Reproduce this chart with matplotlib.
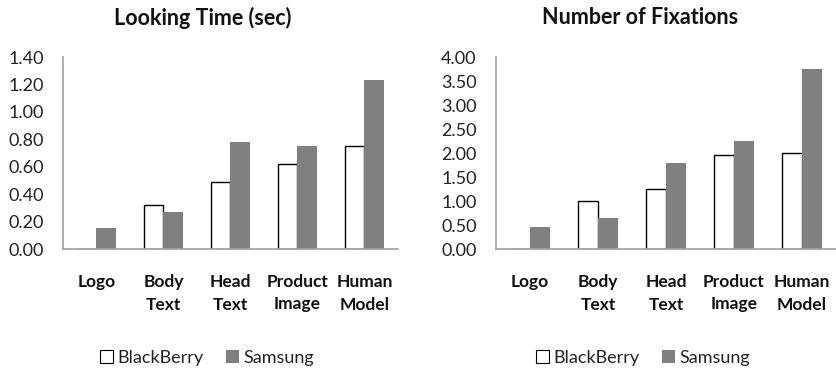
import matplotlib.pyplot as plt
from matplotlib.patches import Patch
import numpy as np

plt.rcParams['font.family'] = ['Lato', 'DejaVu Sans']

categories = ['Logo', 'Body\nText', 'Head\nText', 'Product\nImage', 'Human\nModel']
series = ['BlackBerry', 'Samsung']

looking_bb = [0.0, 0.32, 0.49, 0.62, 0.75]
looking_sam = [0.15, 0.27, 0.78, 0.75, 1.23]
fix_bb = [0.0, 1.00, 1.25, 1.95, 2.01]
fix_sam = [0.46, 0.64, 1.80, 2.26, 3.75]

W, H = 837, 368
fig = plt.figure(figsize=(W / 100, H / 100), dpi=100)

# title, BlackBerry, Samsung, ymax, step, axes left px, axes width px, title x, legend x
panels = [
    ("Looking Time (sec)", looking_bb, looking_sam, 1.40, 0.20, 63, 335, 203, 207),
    ("Number of Fixations", fix_bb, fix_sam, 4.00, 0.50, 496, 340, 640, 643),
]

x = np.arange(len(categories))
bw = 0.29
for title, bb, sam, ymax, step, left, width, tx, lx in panels:
    ax = fig.add_axes([left / W, 119 / H, width / W, 192 / H])
    ax.bar(x - bw / 2, bb, bw, color='white', edgecolor='black', linewidth=1.0)
    ax.bar(x + bw / 2, sam, bw, color='#808080', edgecolor='none')
    ax.set_xlim(-0.5, len(categories) - 0.5)
    ax.set_ylim(0, ymax)
    ticks = np.arange(0, ymax + step / 2, step)
    ax.set_yticks(ticks)
    ax.set_yticklabels([f"{v:.2f}" for v in ticks], fontsize=13, color='#222222')
    ax.set_xticks(x)
    ax.set_xticklabels(categories, fontsize=12.5, fontweight='bold',
                       linespacing=1.5, color='#111111')
    ax.tick_params(axis='both', length=0)
    ax.tick_params(axis='y', pad=14)
    ax.tick_params(axis='x', pad=18)
    for s in ['top', 'right']:
        ax.spines[s].set_visible(False)
    for s in ['left', 'bottom']:
        ax.spines[s].set_color('#a0a0a0')
        ax.spines[s].set_linewidth(1.2)
    fig.text(tx / W, (H - 18) / H, title, ha='center', va='center',
             fontsize=15.5, fontweight='bold', color='#111111')
    handles = [Patch(facecolor='white', edgecolor='black', linewidth=0.8),
               Patch(facecolor='#808080', edgecolor='none')]
    fig.legend(handles, series, loc='center', bbox_to_anchor=(lx / W, 10 / H),
               ncol=2, frameon=False, fontsize=13, handlelength=0.75,
               handleheight=0.75, handletextpad=0.25, columnspacing=1.2,
               labelcolor='#222222')

fig.savefig('out.png', dpi=100)
